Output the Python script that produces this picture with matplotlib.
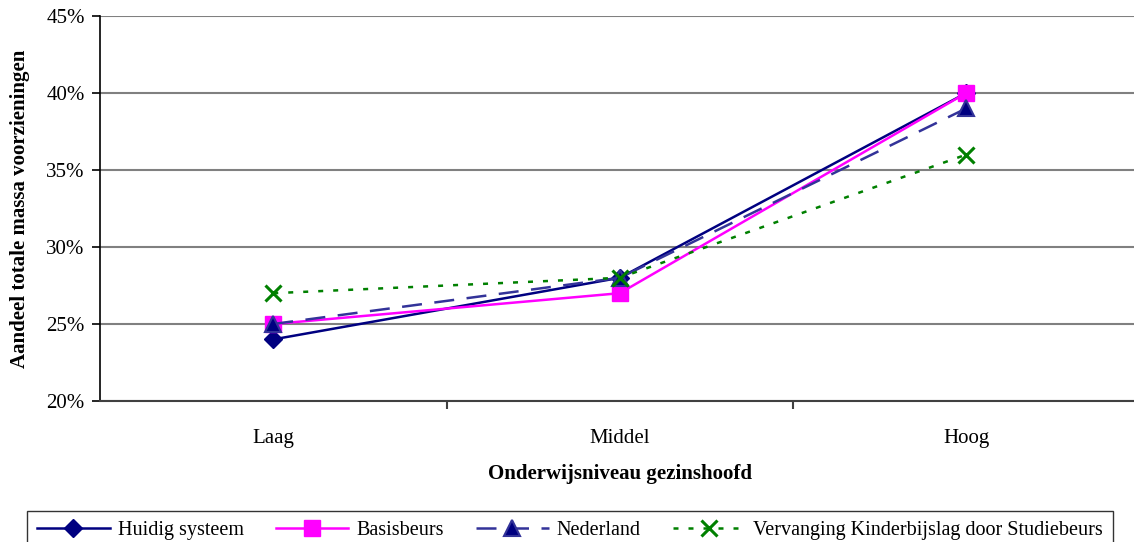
import matplotlib.pyplot as plt
import numpy as np
from matplotlib.ticker import FixedLocator, PercentFormatter

plt.rcParams['font.family'] = ['Liberation Serif', 'DejaVu Serif']

categories = ['Laag', 'Middel', 'Hoog']
huidig = [24, 28, 40]
basisbeurs = [25, 27, 40]
nederland = [25, 28, 39]
vervanging = [27, 28, 36]

fig = plt.figure(figsize=(11.34, 5.42), dpi=100)
ax = fig.add_axes([100/1134, 1-401/542, 1039.5/1134, 385/542])

x = np.arange(len(categories))
ax.plot(x, huidig, color='#000080', lw=1.8, marker='D', ms=9, mfc='#000080', mec='#000080',
        label='Huidig systeem', zorder=3)
ax.plot(x, basisbeurs, color='#FF00FF', lw=1.8, marker='s', ms=11, mfc='#FF00FF', mec='#FF00FF',
        label='Basisbeurs', zorder=4)
ax.plot(x, nederland, color='#333399', lw=1.8, ls=(0, (8, 5)), marker='^', ms=11, mfc='#000080',
        mec='#333399', mew=1.5, label='Nederland', zorder=5)
ax.plot(x, vervanging, color='#008000', lw=1.8, ls=(0, (2, 4)), marker='x', ms=11, mew=2.2,
        label='Vervanging Kinderbijslag door Studiebeurs', zorder=6)

ax.set_xlim(-0.5, 2.5)
ax.set_ylim(20, 45)
ax.set_yticks(np.arange(20, 46, 5))
ax.yaxis.set_major_formatter(PercentFormatter(decimals=0))
ax.set_xticks(x)
ax.set_xticklabels(categories)
ax.xaxis.set_minor_locator(FixedLocator([0.5, 1.5]))
ax.tick_params(axis='x', which='major', length=0, pad=20, labelsize=15)
ax.tick_params(axis='x', which='minor', length=6, width=1.5, color='#404040')
ax.tick_params(axis='y', length=6, width=1.2, labelsize=15, pad=5)

ax.grid(axis='y', color='#808080', lw=1.5)
ax.set_axisbelow(True)
for s in ['top', 'right']:
    ax.spines[s].set_visible(False)
ax.spines['left'].set_color('black')
ax.spines['left'].set_linewidth(1.2)
ax.spines['bottom'].set_color('#404040')
ax.spines['bottom'].set_linewidth(1.5)

ax.set_ylabel('Aandeel totale massa voorzieningen', fontsize=15, fontweight='bold', labelpad=12)
ax.set_xlabel('Onderwijsniveau gezinshoofd', fontsize=15, fontweight='bold', labelpad=12)

leg = fig.legend(loc='upper left', bbox_to_anchor=(27/1134, 1-511/542), ncol=4, fontsize=14.5,
                 frameon=True, fancybox=False, edgecolor='black', handlelength=3.6,
                 columnspacing=1.6, handletextpad=0.4, borderpad=0.5, borderaxespad=0)
leg.get_frame().set_linewidth(1.0)

fig.savefig('out.png', dpi=100)
